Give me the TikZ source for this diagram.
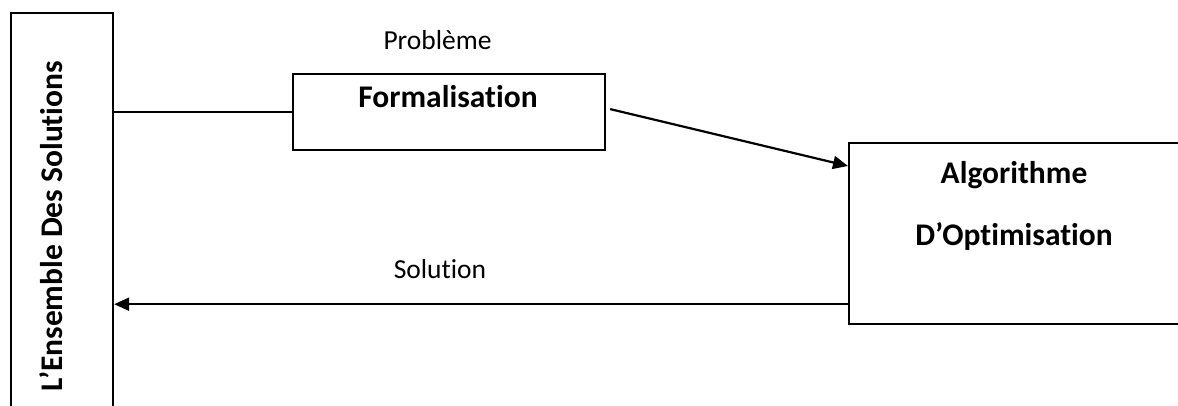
\documentclass[tikz,border=0pt]{standalone}
\usepackage{fontspec}
\setmainfont[Ligatures={NoCommon,NoRare,NoContextual}]{Carlito}
\usetikzlibrary{arrows.meta}
\tikzset{
  boxline/.style={draw=black, line width=2.2pt, inner sep=0pt},
  conn/.style={line width=2.2pt, draw=black},
  arr/.style={conn, -{Triangle[length=15pt,width=13pt]}},
  reg/.style={font=\fontsize{27.5}{33}\selectfont, inner sep=0pt},
  bld/.style={font=\fontsize{31.5}{38}\selectfont\bfseries, inner sep=0pt},
}
\begin{document}
\begin{tikzpicture}[x=1pt,y=-1pt]
\useasboundingbox (0,0) rectangle (1178,405);
% left box (extends past bottom)
\node[boxline, anchor=north west, minimum width=102pt, minimum height=420pt] (left) at (10,12) {};
\node[bld, rotate=90, anchor=base] (lefttxt) at (62,226) {L’Ensemble Des Solutions};
% formalisation
\node[boxline, anchor=north west, minimum width=312pt, minimum height=76pt] (form) at (292,73) {};
\node[bld, anchor=base] (formtxt) at (448,107) {Formalisation};
% algorithme
\node[boxline, anchor=north west, minimum width=332pt, minimum height=181pt] (alg) at (848,142) {};
\node[bld, anchor=base] (algtxt1) at (1014,183) {Algorithme};
\node[bld, anchor=base] (algtxt2) at (1014,245) {D’Optimisation};
% labels
\node[reg, anchor=base] (prob) at (437.5,49) {Problème};
\node[reg, anchor=base] (sol) at (440,278) {Solution};
% connectors
\draw[conn] (form.west -| left.east) -- (form.west);
\draw[arr] ([xshift=4pt,yshift=3pt]form.east) -- ([yshift=-24pt]alg.north west);
\coordinate (solstart) at ([yshift=21pt]alg.south west);
\draw[arr] (solstart) -- (solstart -| left.east);
\end{tikzpicture}
\end{document}
